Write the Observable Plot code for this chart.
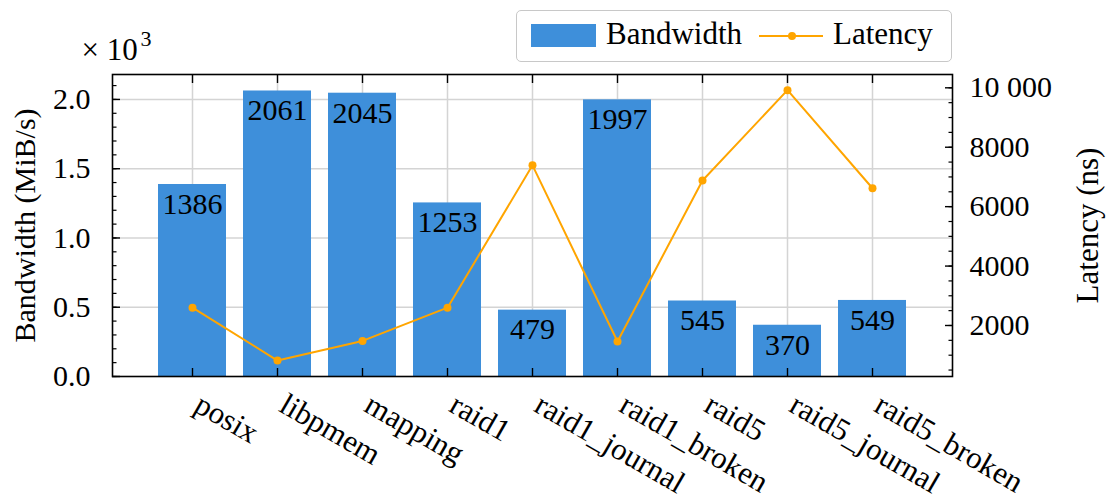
<!DOCTYPE html>
<html>
<head>
<meta charset="utf-8">
<script src="https://cdn.jsdelivr.net/npm/d3@7"></script>
<script src="https://cdn.jsdelivr.net/npm/@observablehq/plot@0.6"></script>
<style>
  html, body { margin: 0; padding: 0; background: #fff; }
  #wrap { position: relative; width: 1106px; height: 501px; font-family: "Liberation Serif", "DejaVu Serif", serif; }
  #wrap > svg, #wrap > figure { position: absolute; left: 0; top: 0; margin: 0; }
  #wrap svg text { font-family: "Liberation Serif", "DejaVu Serif", serif; }
  #legend { position: absolute; left: 516px; top: 10px; width: 434px; height: 50px; border: 1.5px solid #c8c8c8; border-radius: 5px; background: #fff; font-size: 31px; color: #000; }
  #legend .patch { position: absolute; left: 14px; top: 13px; width: 65px; height: 23px; background: #3e8fda; }
  #legend .t1 { position: absolute; left: 89px; top: 5px; line-height: 36px; }
  #legend .line { position: absolute; left: 242px; top: 24px; width: 64px; height: 2px; background: #ffa500; }
  #legend .dot { position: absolute; left: 271px; top: 21px; width: 8px; height: 8px; border-radius: 50%; background: #ffa500; }
  #legend .t2 { position: absolute; left: 316px; top: 5px; line-height: 36px; }
</style>
</head>
<body>
<div id="wrap"></div>
<script>
const categories = ["posix", "libpmem", "mapping", "raid1", "raid1_journal", "raid1_broken", "raid5", "raid5_journal", "raid5_broken"];
const bandwidth = [1386, 2061, 2045, 1253, 479, 1997, 545, 370, 549];
const latency = [2600, 820, 1480, 2600, 7390, 1460, 6880, 9920, 6620];
const bwTicks = [0, 500, 1000, 1500, 2000];
const bwMinorTicks = d3.range(0, 2200, 100);
const latTicks = [2000, 4000, 6000, 8000, 10000];
const latMinorTicks = d3.range(500, 10500, 500);

const W = 1106, H = 501;
const M = {top: 74, right: 154, bottom: 125, left: 112};
const blue = "#3e8fda", orange = "#ffa500", gridColor = "#d4d4d4";
const font = {fontFamily: "'Liberation Serif', 'DejaVu Serif', serif", fontSize: "30px", background: "transparent", overflow: "visible"};

const bars = categories.map((c, i) => ({cat: c, bw: bandwidth[i]}));
const lats = categories.map((c, i) => ({cat: c, lat: latency[i]}));

const main = Plot.plot({
  width: W, height: H,
  marginTop: M.top, marginRight: M.right, marginBottom: M.bottom, marginLeft: M.left,
  style: font,
  x: {type: "band", domain: categories, paddingInner: 0.2, paddingOuter: 0.525},
  y: {domain: [0, 2180]},
  marks: [
    Plot.gridY({ticks: bwTicks.slice(1), stroke: gridColor, strokeOpacity: 1, strokeWidth: 1.5}),
    Plot.gridX({stroke: gridColor, strokeOpacity: 1, strokeWidth: 1.5}),
    Plot.barY(bars, {x: "cat", y: "bw", fill: blue}),
    Plot.text(bars, {x: "cat", y: "bw", text: d => String(d.bw), lineAnchor: "top", dy: 8, fill: "#000", fontSize: 30}),
    Plot.axisY({ticks: bwMinorTicks, tickSize: -4.5, tickFormat: () => "", label: null, strokeWidth: 1.2}),
    Plot.axisY({ticks: bwTicks, tickSize: -8, tickPadding: 30, tickFormat: d => (d / 1000).toFixed(1), label: null, strokeWidth: 1.4, fill: "#000", fontSize: 30}),
    Plot.axisX({anchor: "bottom", tickSize: -8, tickFormat: () => "", label: null, strokeWidth: 1.4}),
    Plot.axisX({anchor: "top", tickSize: -8, tickFormat: () => "", label: null, strokeWidth: 1.4}),
    Plot.axisX({anchor: "bottom", tickSize: 0, tickPadding: 0, tickRotate: 30, textAnchor: "start", lineAnchor: "bottom", dx: 0, dy: 34, label: null, fill: "#000", fontSize: 31}),
    Plot.text(["Bandwidth (MiB/s)"], {frameAnchor: "left", textAnchor: "middle", rotate: -90, dx: -87, fontSize: 30, fill: "#000"}),
    Plot.text(["× 10"], {frameAnchor: "top-left", textAnchor: "start", lineAnchor: "bottom", dx: -31, dy: -15, fontSize: 31, fill: "#000"}),
    Plot.text(["3"], {frameAnchor: "top-left", textAnchor: "start", lineAnchor: "bottom", dx: 28, dy: -29, fontSize: 22, fill: "#000"})
  ]
});

const over = Plot.plot({
  width: W, height: H,
  marginTop: M.top, marginRight: M.right, marginBottom: M.bottom, marginLeft: M.left,
  style: font,
  x: {type: "point", domain: categories, padding: 0.925, axis: null},
  y: {domain: [283, 10448], axis: null},
  marks: [
    Plot.line(lats, {x: "cat", y: "lat", stroke: orange, strokeWidth: 2}),
    Plot.dot(lats, {x: "cat", y: "lat", fill: orange, r: 4}),
    Plot.axisY({anchor: "right", ticks: latMinorTicks, tickSize: -4.5, tickFormat: () => "", label: null, strokeWidth: 1.2}),
    Plot.axisY({anchor: "right", ticks: latTicks, tickSize: -8, tickPadding: 25, tickFormat: d => d >= 10000 ? d3.format(",")(d).replace(",", " ") : String(d), label: null, strokeWidth: 1.4, fill: "#000", fontSize: 30}),
    Plot.text(["Latency (ns)"], {frameAnchor: "right", textAnchor: "middle", rotate: -90, dx: 136, fontSize: 31, fill: "#000"}),
    Plot.frame({stroke: "#000", strokeWidth: 1.6})
  ]
});

const wrap = document.getElementById("wrap");
wrap.appendChild(main);
wrap.appendChild(over);
const legend = document.createElement("div");
legend.id = "legend";
legend.innerHTML = '<div class="patch"></div><div class="t1">Bandwidth</div><div class="line"></div><div class="dot"></div><div class="t2">Latency</div>';
wrap.appendChild(legend);
</script>
</body>
</html>
